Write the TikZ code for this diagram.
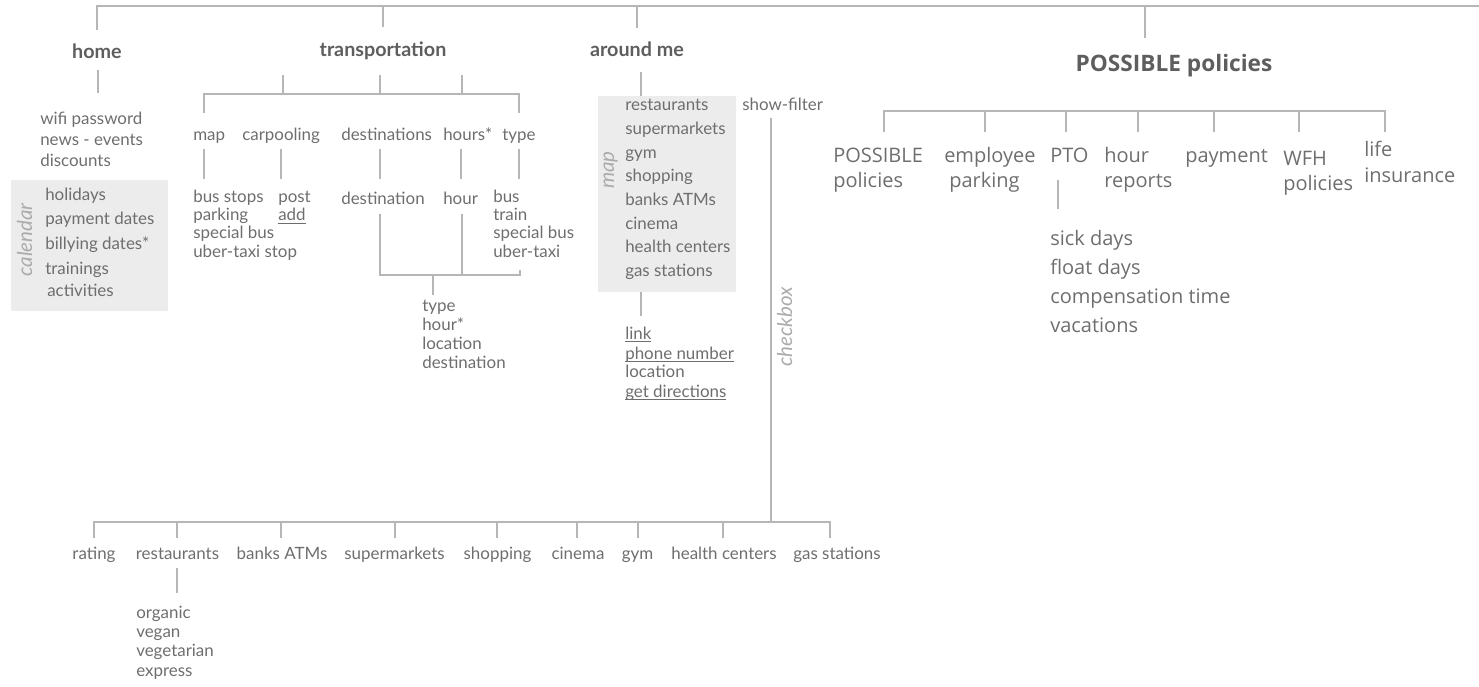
\documentclass[tikz,border=0pt]{standalone}
\usepackage{fontspec}
\setmainfont{Lato}
\newfontfamily\polfont{Open Sans}
\definecolor{ink}{HTML}{6E6E6E}
\definecolor{headc}{HTML}{5E5E5E}
\definecolor{sidec}{HTML}{ABABAB}
\definecolor{linec}{HTML}{B6B6B6}
\definecolor{boxc}{HTML}{ECECED}
% underline that sits just under the baseline
\newcommand\ulk[1]{\setbox0=\hbox{#1}\rlap{\rule[-2.2pt]{\wd0}{0.6pt}}\box0}
\begin{document}
\begin{tikzpicture}[x=0.75pt,y=-0.75pt,
  conn/.style={draw=linec, line width=1.5pt},
  lbl/.style={font=\fontsize{12.7}{15}\selectfont, text=ink, inner sep=0pt, text height=6.4pt, text depth=0pt},
  item/.style={lbl, anchor=west},
  head/.style={lbl, font=\fontsize{14.8}{17}\selectfont\bfseries, text=headc, text height=7.4pt},
  side/.style={lbl, font=\fontsize{15.4}{18}\selectfont\itshape, text=sidec, rotate=90, text height=7.8pt},
  pol/.style={item, font=\polfont\fontsize{15}{18}\selectfont, text height=8pt},
  polhead/.style={lbl, font=\polfont\fontsize{17}{20}\selectfont\bfseries, text=headc, text height=9.1pt},
  shade/.style={fill=boxc, draw=none}]
\useasboundingbox (0,0) rectangle (1479,686);

% grey panels
\path[shade] (11,180) rectangle (168,311);
\path[shade] (598,96) rectangle (736,292);

% ---------- top level ----------
\coordinate (tl) at (97,6);
\coordinate (tr) at (1479,6);
\coordinate (home-up) at (97,30);
\coordinate (tra-top) at (383,6);
\coordinate (tra-up) at (383,27);
\coordinate (am-top) at (637,6);
\coordinate (am-up) at (637,28);
\coordinate (pp-top) at (1145,6);
\coordinate (pp-up) at (1145,38);
\draw[conn] (home-up) -- (tl) -- (tr);
\draw[conn] (tra-top) -- (tra-up);
\draw[conn] (am-top) -- (am-up);
\draw[conn] (pp-top) -- (pp-up);

\node[head] (home) at (97,54) {home};
\node[head] (transp) at (383,52) {transportation};
\node[head] (around) at (637,52) {around me};
\node[polhead] (possible) at (1174,65) {POSSIBLE policies};

% ---------- home ----------
\coordinate (home-a) at (98,70);
\coordinate (home-b) at (98,93);
\draw[conn] (home-a) -- (home-b);
\foreach \t [count=\i from 0] in {wifi password, news - events, discounts}
  \node[item] (hm\i) at (40,{120+21*\i}) {\t};
\node[side] (calendar) at (27,240) {calendar};
\foreach \t [count=\i from 0] in {holidays, payment dates, billying dates*, trainings}
  \node[item] (cal\i) at (45,{196+24.7*\i}) {\t};
\node[item] (cal4) at (47,292) {activities};

% ---------- transportation ----------
\coordinate (tb1) at (204,94);
\coordinate (tb2) at (283,94);
\coordinate (tb3) at (380,94);
\coordinate (tb4) at (462,94);
\coordinate (tb5) at (519,94);
\draw[conn] (204,113) -- (tb1) -- (tb5) -- (519,113);
\foreach \c in {tb2,tb3,tb4}
  \draw[conn] (\c) -- ++(0,-19);

\node[item] (t-map) at (193,136) {map};
\node[item] (t-car) at (242,136) {carpooling};
\node[item] (t-dest) at (341,136) {destinations};
\node[item] (t-hrs) at (443,136) {hours*};
\node[item] (t-type) at (502,136) {type};

\foreach \x in {204,281,380,461,519}
  \draw[conn] (\x,149) -- (\x,179);

\foreach \t [count=\i from 0] in {bus stops, parking, special bus, uber-taxi stop}
  \node[item] (mp\i) at (193,{198+18.3*\i}) {\t};
\node[item] (cp0) at (278,198) {post};
\node[item] (cp1) at (278,216.3) {\ulk{add}};
\node[item] (dst) at (341,200) {destination};
\node[item] (hr) at (443,200) {hour};
\foreach \t [count=\i from 0] in {bus, train, special bus, uber-taxi}
  \node[item] (ty\i) at (493,{198+18.3*\i}) {\t};

\coordinate (jb1) at (380,275);
\coordinate (jb2) at (462,275);
\coordinate (jb3) at (520,275);
\coordinate (jbm) at (433,275);
\draw[conn] (380,214) -- (jb1) -- (jb3) -- (520,270);
\draw[conn] (462,214) -- (jb2);
\draw[conn] (jbm) -- (433,295);
\foreach \t [count=\i from 0] in {type, hour*, location, destination}
  \node[item] (tr\i) at (422,{307+19*\i}) {\t};

% ---------- around me ----------
\coordinate (am-a) at (641,72);
\coordinate (am-b) at (641,96);
\draw[conn] (am-a) -- (am-b);
\node[side] (mapside) at (609,170) {map};
\foreach \t [count=\i from 0] in {restaurants, supermarkets, gym, shopping, banks ATMs, cinema, health centers, gas stations}
  \node[item] (pl\i) at (625,{106.5+23.7*\i}) {\t};
\coordinate (am-c) at (641,292);
\coordinate (am-d) at (641,316);
\draw[conn] (am-c) -- (am-d);
\node[item] (lk0) at (625,335) {\ulk{link}};
\node[item] (lk1) at (625,355) {\ulk{phone number}};
\node[item] (lk2) at (625,373) {location};
\node[item] (lk3) at (625,393) {\ulk{get directions}};

\node[item] (filter) at (742,106.5) {show-filter};
\node[side] (checkbox) at (787,327) {checkbox};

% ---------- filter row ----------
\coordinate (ck-a) at (771,118);
\coordinate (ck-b) at (771,522);
\draw[conn] (ck-a) -- (ck-b);
\coordinate (fb-l) at (94,522);
\coordinate (fb-r) at (830,522);
\draw[conn] (94,538) -- (fb-l) -- (fb-r) -- (830,538);
\foreach \x in {177,281,395,497,577,638,723}
  \draw[conn] (\x,522) -- (\x,538);

\node[lbl] (f-rating) at (94,555) {rating};
\node[lbl] (f-rest) at (177.5,555) {restaurants};
\node[lbl] (f-bank) at (282,555) {banks ATMs};
\node[lbl] (f-super) at (394.5,555) {supermarkets};
\node[lbl] (f-shop) at (497.5,555) {shopping};
\node[lbl] (f-cine) at (578,555) {cinema};
\node[lbl] (f-gym) at (637.5,555) {gym};
\node[lbl] (f-health) at (724,555) {health centers};
\node[lbl] (f-gas) at (837,555) {gas stations};

\coordinate (rs-a) at (177,568);
\coordinate (rs-b) at (177,593);
\draw[conn] (rs-a) -- (rs-b);
\foreach \t [count=\i from 0] in {organic, vegan, vegetarian, express}
  \node[item] (rs\i) at (136,{614+19.3*\i}) {\t};

% ---------- policies ----------
\coordinate (pb-l) at (884,111);
\coordinate (pb-r) at (1385,111);
\draw[conn] (884,132) -- (pb-l) -- (pb-r) -- (1385,132);
\foreach \x in {985,1066,1138,1214,1299}
  \draw[conn] (\x,111) -- (\x,132);

\node[pol] (p1a) at (833,157) {POSSIBLE};
\node[pol] (p1b) at (833,182) {policies};
\node[pol] (p2a) at (944,157) {employee};
\node[pol] (p2b) at (949,182) {parking};
\node[pol] (p3) at (1050,157) {PTO};
\node[pol] (p4a) at (1104,157) {hour};
\node[pol] (p4b) at (1104,182) {reports};
\node[pol] (p5) at (1185,157) {payment};
\node[pol] (p6a) at (1283,160) {WFH};
\node[pol] (p6b) at (1283,185) {policies};
\node[pol] (p7a) at (1364,151) {life};
\node[pol] (p7b) at (1364,177) {insurance};

\coordinate (pto-a) at (1058,180);
\coordinate (pto-b) at (1058,209);
\draw[conn] (pto-a) -- (pto-b);
\foreach \t [count=\i from 0] in {sick days, float days, compensation time, vacations}
  \node[pol] (pt\i) at (1050,{240+29*\i}) {\t};
\end{tikzpicture}
\end{document}
